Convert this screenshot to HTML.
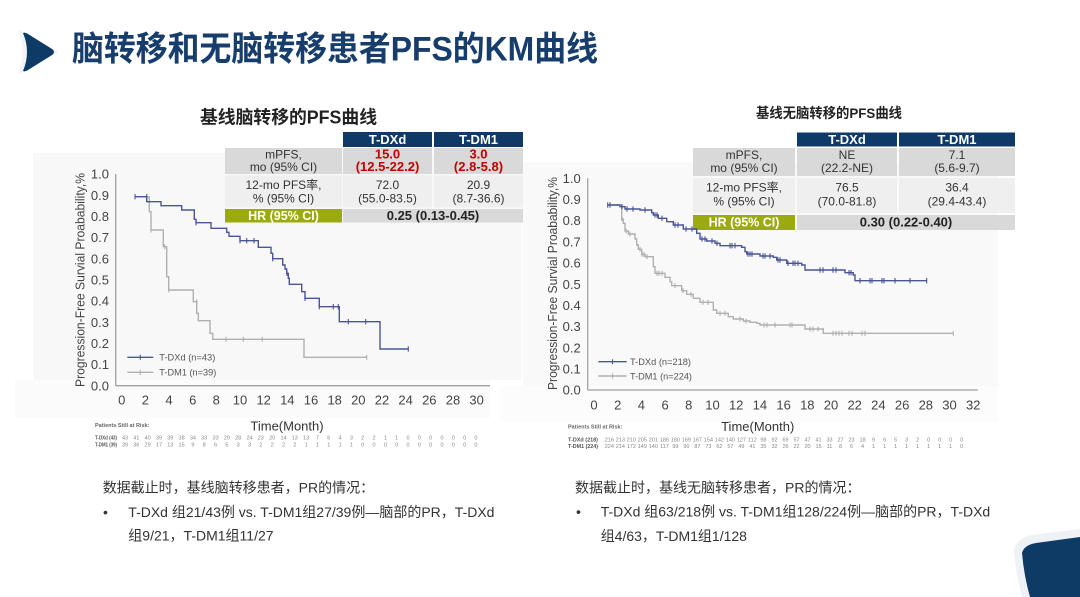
<!DOCTYPE html>
<html><head><meta charset="utf-8">
<style>
html,body{margin:0;padding:0;background:#fff;width:1080px;height:597px;overflow:hidden}
svg{display:block}
text{font-family:"Liberation Sans","Noto Sans CJK SC",sans-serif}
</style></head>
<body>
<svg width="1080" height="597" viewBox="0 0 1080 597" xmlns="http://www.w3.org/2000/svg">
<!-- title -->
<path d="M18,29 L56,50 Q60,52 56,54 L18,75 Q27,52 18,29 Z" fill="#f1f4f9"/>
<path d="M23,33 Q25,32 28,34 L52,49 Q56,52 52,55 L28,70 Q25,72 23,71 Q31,52 23,33 Z" fill="#0e3a66"/>
<text x="72" y="60.5" font-size="34" font-weight="bold" fill="#173d6c" textLength="526" lengthAdjust="spacingAndGlyphs">脑转移和无脑转移患者PFS的KM曲线</text>

<!-- chart backgrounds -->
<rect x="33" y="153" width="489" height="227" fill="#f8f8f8"/>
<rect x="15" y="380" width="475" height="38" fill="#fbfbfb"/>
<rect x="523" y="162" width="475" height="224" fill="#f9f9f9"/>
<rect x="500" y="386" width="498" height="36" fill="#fcfcfc"/>

<!-- LEFT title + table -->
<text x="200" y="123.5" font-size="18" font-weight="bold" fill="#222" textLength="177" lengthAdjust="spacingAndGlyphs">基线脑转移的PFS曲线</text>
<rect x="343" y="132" width="89" height="15" fill="#0f3a67"/>
<rect x="434" y="132" width="89" height="15" fill="#0f3a67"/>
<text x="387.5" y="144" font-size="13" font-weight="bold" fill="#fff" text-anchor="middle">T-DXd</text>
<text x="478.5" y="144" font-size="13" font-weight="bold" fill="#fff" text-anchor="middle">T-DM1</text>
<rect x="225" y="148" width="117" height="26" fill="#d9d9d9"/>
<rect x="343" y="148" width="89" height="26" fill="#d9d9d9"/>
<rect x="434" y="148" width="89" height="26" fill="#d9d9d9"/>
<text x="283.5" y="158.5" font-size="12" fill="#333" text-anchor="middle">mPFS,</text>
<text x="283.5" y="171" font-size="12" fill="#333" text-anchor="middle">mo (95% CI)</text>
<text x="387.5" y="158.5" font-size="13" font-weight="bold" fill="#c00000" text-anchor="middle">15.0</text>
<text x="387.5" y="171" font-size="13" font-weight="bold" fill="#c00000" text-anchor="middle">(12.5-22.2)</text>
<text x="478.5" y="158.5" font-size="13" font-weight="bold" fill="#c00000" text-anchor="middle">3.0</text>
<text x="478.5" y="171" font-size="13" font-weight="bold" fill="#c00000" text-anchor="middle">(2.8-5.8)</text>
<rect x="225" y="175.5" width="117" height="32" fill="#efefef"/>
<rect x="343" y="175.5" width="89" height="32" fill="#efefef"/>
<rect x="434" y="175.5" width="89" height="32" fill="#efefef"/>
<text x="283.5" y="189" font-size="12" fill="#333" text-anchor="middle">12-mo PFS率,</text>
<text x="283.5" y="202.5" font-size="12" fill="#333" text-anchor="middle">% (95% CI)</text>
<text x="387.5" y="189" font-size="12" fill="#333" text-anchor="middle">72.0</text>
<text x="387.5" y="202.5" font-size="12" fill="#333" text-anchor="middle">(55.0-83.5)</text>
<text x="478.5" y="189" font-size="12" fill="#333" text-anchor="middle">20.9</text>
<text x="478.5" y="202.5" font-size="12" fill="#333" text-anchor="middle">(8.7-36.6)</text>
<rect x="225" y="209" width="117" height="13.5" fill="#9bab0f"/>
<rect x="343" y="209" width="180" height="13.5" fill="#d9d9d9"/>
<text x="283.5" y="220" font-size="12.5" font-weight="bold" fill="#fff" text-anchor="middle">HR (95% CI)</text>
<text x="433" y="220" font-size="13" font-weight="bold" fill="#222" text-anchor="middle">0.25 (0.13-0.45)</text>

<!-- RIGHT title + table -->
<text x="756" y="118" font-size="14" font-weight="bold" fill="#222" textLength="146" lengthAdjust="spacingAndGlyphs">基线无脑转移的PFS曲线</text>
<rect x="797" y="132.5" width="100" height="14" fill="#0f3a67"/>
<rect x="899" y="132.5" width="116" height="14" fill="#0f3a67"/>
<text x="847" y="144" font-size="13" font-weight="bold" fill="#fff" text-anchor="middle">T-DXd</text>
<text x="957" y="144" font-size="13" font-weight="bold" fill="#fff" text-anchor="middle">T-DM1</text>
<rect x="693" y="148" width="102" height="28" fill="#d9d9d9"/>
<rect x="797" y="148" width="100" height="28" fill="#d9d9d9"/>
<rect x="899" y="148" width="116" height="28" fill="#d9d9d9"/>
<text x="744" y="159" font-size="12" fill="#333" text-anchor="middle">mPFS,</text>
<text x="744" y="172" font-size="12" fill="#333" text-anchor="middle">mo (95% CI)</text>
<text x="847" y="159" font-size="12" fill="#333" text-anchor="middle">NE</text>
<text x="847" y="172" font-size="12" fill="#333" text-anchor="middle">(22.2-NE)</text>
<text x="957" y="159" font-size="12" fill="#333" text-anchor="middle">7.1</text>
<text x="957" y="172" font-size="12" fill="#333" text-anchor="middle">(5.6-9.7)</text>
<rect x="693" y="178" width="102" height="35" fill="#efefef"/>
<rect x="797" y="178" width="100" height="35" fill="#efefef"/>
<rect x="899" y="178" width="116" height="35" fill="#efefef"/>
<text x="744" y="191.5" font-size="12" fill="#333" text-anchor="middle">12-mo PFS率,</text>
<text x="744" y="205.5" font-size="12" fill="#333" text-anchor="middle">% (95% CI)</text>
<text x="847" y="191.5" font-size="12" fill="#333" text-anchor="middle">76.5</text>
<text x="847" y="205.5" font-size="12" fill="#333" text-anchor="middle">(70.0-81.8)</text>
<text x="957" y="191.5" font-size="12" fill="#333" text-anchor="middle">36.4</text>
<text x="957" y="205.5" font-size="12" fill="#333" text-anchor="middle">(29.4-43.4)</text>
<rect x="693" y="215" width="102" height="15" fill="#9bab0f"/>
<rect x="797" y="215" width="218" height="15" fill="#d9d9d9"/>
<text x="744" y="226.5" font-size="12.5" font-weight="bold" fill="#fff" text-anchor="middle">HR (95% CI)</text>
<text x="906" y="226.5" font-size="13" font-weight="bold" fill="#222" text-anchor="middle">0.30 (0.22-0.40)</text>

<!-- LEFT axes -->
<g stroke="#a0a0a0" stroke-width="1.3" fill="none">
<line x1="115.7" y1="174" x2="115.7" y2="385.7"/>
<line x1="115.7" y1="385.7" x2="490" y2="385.7"/>
</g>
<g font-size="13" fill="#444" text-anchor="end">
<text x="109" y="178.6">1.0</text><text x="109" y="199.8">0.9</text><text x="109" y="220.9">0.8</text><text x="109" y="242.1">0.7</text><text x="109" y="263.3">0.6</text><text x="109" y="284.5">0.5</text><text x="109" y="305.6">0.4</text><text x="109" y="326.8">0.3</text><text x="109" y="348">0.2</text><text x="109" y="369.1">0.1</text><text x="109" y="390.3">0.0</text>
</g>
<g font-size="13" fill="#444" text-anchor="middle">
<text x="121.7" y="404.5">0</text><text x="145.4" y="404.5">2</text><text x="169" y="404.5">4</text><text x="192.7" y="404.5">6</text><text x="216.3" y="404.5">8</text><text x="240" y="404.5">10</text><text x="263.7" y="404.5">12</text><text x="287.3" y="404.5">14</text><text x="311" y="404.5">16</text><text x="334.7" y="404.5">18</text><text x="358.3" y="404.5">20</text><text x="382" y="404.5">22</text><text x="405.6" y="404.5">24</text><text x="429.3" y="404.5">26</text><text x="453" y="404.5">28</text><text x="476.6" y="404.5">30</text>
</g>
<text x="287" y="430.5" font-size="13" fill="#333" text-anchor="middle">Time(Month)</text>
<text transform="translate(84.5,280) rotate(-90)" font-size="13" fill="#444" text-anchor="middle" textLength="214" lengthAdjust="spacingAndGlyphs">Progression-Free Survial Proabability,%</text>

<!-- LEFT curves -->
<path d="M135,196.7 H149.3 V211.7 H151 V230 H163.3 V246.7 H166.7 V276.7 H168.7 V290 H193.3 V301.7 H196.7 V313.3 H198.3 V320.7 H210 V333.3 H212.7 V339.3 H304 V357.3 H366.7" fill="none" stroke="#b0b0b0" stroke-width="1.4"/>
<g stroke="#b0b0b0" stroke-width="1.1">
<line x1="151" y1="227.5" x2="151" y2="232.5"/><line x1="164.7" y1="244.2" x2="164.7" y2="249.2"/><line x1="168.7" y1="287.5" x2="168.7" y2="292.5"/><line x1="196.7" y1="299.2" x2="196.7" y2="304.2"/><line x1="226" y1="336.8" x2="226" y2="341.8"/><line x1="243.3" y1="336.8" x2="243.3" y2="341.8"/><line x1="262.3" y1="336.8" x2="262.3" y2="341.8"/><line x1="366.7" y1="354.8" x2="366.7" y2="359.8"/>
</g>
<path d="M135,196.7 H146.7 V201.7 H161 V205.7 H181.7 V210 H194.3 V219.3 H196 V222.7 H211 V228.3 H226.7 V232.3 H229 V236.3 H240 V240.7 H258.3 V247.3 H271 V253.3 H272.7 V258.7 H282.7 V265 H285 V269 H286.7 V273.3 H288.3 V278.3 H289.3 V284.3 H301.7 V291.7 H305 V298.3 H319.3 V306.7 H339.3 V321.7 H380 V349 H408.3" fill="none" stroke="#4a5596" stroke-width="1.4"/>
<g stroke="#4a5596" stroke-width="1.1">
<line x1="135" y1="194" x2="135" y2="199.4"/><line x1="146.7" y1="194" x2="146.7" y2="199.4"/><line x1="196" y1="220" x2="196" y2="225.4"/><line x1="240" y1="238" x2="240" y2="243.4"/><line x1="246.7" y1="238" x2="246.7" y2="243.4"/><line x1="254" y1="238" x2="254" y2="243.4"/><line x1="272.7" y1="256" x2="272.7" y2="261.4"/><line x1="287" y1="270.6" x2="287" y2="276"/><line x1="305" y1="295.6" x2="305" y2="301"/><line x1="319.3" y1="304" x2="319.3" y2="309.4"/><line x1="333.3" y1="304" x2="333.3" y2="309.4"/><line x1="338.3" y1="304" x2="338.3" y2="309.4"/><line x1="348.3" y1="319" x2="348.3" y2="324.4"/><line x1="365.7" y1="319" x2="365.7" y2="324.4"/><line x1="408.3" y1="346.3" x2="408.3" y2="351.7"/>
</g>
<!-- LEFT legend -->
<line x1="127.3" y1="357.3" x2="153.3" y2="357.3" stroke="#4a5596" stroke-width="1.4"/>
<line x1="140.3" y1="354.8" x2="140.3" y2="359.8" stroke="#4a5596" stroke-width="1.1"/>
<text x="159.3" y="360.6" font-size="9.5" fill="#555" textLength="56" lengthAdjust="spacingAndGlyphs">T-DXd (n=43)</text>
<line x1="127.3" y1="372.3" x2="153.3" y2="372.3" stroke="#b0b0b0" stroke-width="1.4"/>
<line x1="140.3" y1="369.8" x2="140.3" y2="374.8" stroke="#b0b0b0" stroke-width="1.1"/>
<text x="159.3" y="375.6" font-size="9.5" fill="#555" textLength="57" lengthAdjust="spacingAndGlyphs">T-DM1 (n=39)</text>

<!-- LEFT risk table -->
<text x="95" y="427" font-size="5.5" font-weight="bold" fill="#666">Patients Still at Risk:</text>
<text x="95" y="439.3" font-size="5" font-weight="bold" fill="#555" textLength="22" lengthAdjust="spacingAndGlyphs">T-DXd (43)</text>
<text x="95" y="446.3" font-size="5" font-weight="bold" fill="#555" textLength="22" lengthAdjust="spacingAndGlyphs">T-DM1 (39)</text>
<text y="439.3" font-size="5.5" fill="#888" text-anchor="middle"><tspan x="125">43</tspan><tspan x="136.3">41</tspan><tspan x="147.6">40</tspan><tspan x="159">39</tspan><tspan x="170.3">39</tspan><tspan x="181.6">38</tspan><tspan x="192.9">34</tspan><tspan x="204.2">33</tspan><tspan x="215.6">33</tspan><tspan x="226.9">29</tspan><tspan x="238.2">28</tspan><tspan x="249.5">24</tspan><tspan x="260.8">23</tspan><tspan x="272.2">20</tspan><tspan x="283.5">14</tspan><tspan x="294.8">13</tspan><tspan x="306.1">13</tspan><tspan x="317.4">7</tspan><tspan x="328.8">6</tspan><tspan x="340.1">4</tspan><tspan x="351.4">3</tspan><tspan x="362.7">2</tspan><tspan x="374">2</tspan><tspan x="385.4">1</tspan><tspan x="396.7">1</tspan><tspan x="408">0</tspan><tspan x="419.3">0</tspan><tspan x="430.6">0</tspan><tspan x="442">0</tspan><tspan x="453.3">0</tspan><tspan x="464.6">0</tspan><tspan x="475.9">0</tspan></text>
<text y="446.3" font-size="5.5" fill="#888" text-anchor="middle"><tspan x="125">39</tspan><tspan x="136.3">36</tspan><tspan x="147.6">29</tspan><tspan x="159">17</tspan><tspan x="170.3">13</tspan><tspan x="181.6">15</tspan><tspan x="192.9">9</tspan><tspan x="204.2">8</tspan><tspan x="215.6">6</tspan><tspan x="226.9">5</tspan><tspan x="238.2">3</tspan><tspan x="249.5">3</tspan><tspan x="260.8">2</tspan><tspan x="272.2">2</tspan><tspan x="283.5">2</tspan><tspan x="294.8">2</tspan><tspan x="306.1">1</tspan><tspan x="317.4">1</tspan><tspan x="328.8">1</tspan><tspan x="340.1">1</tspan><tspan x="351.4">1</tspan><tspan x="362.7">0</tspan><tspan x="374">0</tspan><tspan x="385.4">0</tspan><tspan x="396.7">0</tspan><tspan x="408">0</tspan><tspan x="419.3">0</tspan><tspan x="430.6">0</tspan><tspan x="442">0</tspan><tspan x="453.3">0</tspan><tspan x="464.6">0</tspan><tspan x="475.9">0</tspan></text>

<!-- RIGHT axes -->
<g stroke="#a0a0a0" stroke-width="1.3" fill="none">
<line x1="587.7" y1="178.3" x2="587.7" y2="390"/>
<line x1="587.7" y1="390" x2="978" y2="390"/>
</g>
<g font-size="13" fill="#444" text-anchor="end">
<text x="580.7" y="182.9">1.0</text><text x="580.7" y="204.1">0.9</text><text x="580.7" y="225.2">0.8</text><text x="580.7" y="246.4">0.7</text><text x="580.7" y="267.6">0.6</text><text x="580.7" y="288.8">0.5</text><text x="580.7" y="309.9">0.4</text><text x="580.7" y="331.1">0.3</text><text x="580.7" y="352.3">0.2</text><text x="580.7" y="373.4">0.1</text><text x="580.7" y="394.6">0.0</text>
</g>
<g font-size="13" fill="#444" text-anchor="middle">
<text x="594" y="409.5">0</text><text x="617.7" y="409.5">2</text><text x="641.4" y="409.5">4</text><text x="665.1" y="409.5">6</text><text x="688.8" y="409.5">8</text><text x="712.5" y="409.5">10</text><text x="736.2" y="409.5">12</text><text x="759.9" y="409.5">14</text><text x="783.6" y="409.5">16</text><text x="807.3" y="409.5">18</text><text x="831" y="409.5">20</text><text x="854.7" y="409.5">22</text><text x="878.4" y="409.5">24</text><text x="902.1" y="409.5">26</text><text x="925.8" y="409.5">28</text><text x="949.5" y="409.5">30</text><text x="973.2" y="409.5">32</text>
</g>
<text x="757.7" y="431" font-size="13" fill="#333" text-anchor="middle">Time(Month)</text>
<text transform="translate(557,283.5) rotate(-90)" font-size="13" fill="#444" text-anchor="middle" textLength="213" lengthAdjust="spacingAndGlyphs">Progression-Free Survial Proabability,%</text>

<!-- RIGHT curves -->
<path d="M607.7,205 H621.7 V220 H623.3 V223.3 H625 V231 H628.3 V234 H635 V239 H636.7 V245 H638.3 V249.3 H641.7 V254.3 H645 V256.7 H653.3 V266.7 H655 V273.3 H665 V277.3 H670 V281.7 H671.7 V285.7 H681.7 V290.7 H686.7 V294.3 H693.3 V298.3 H700 V302.3 H713.3 V310 H716.7 V313.3 H728.3 V316.7 H733.3 V319 H743.3 V321 H750 V322.3 H756.7 V323.3 H760 V325 H805 V329 H823.3 V333.3 H953.3" fill="none" stroke="#b0b0b0" stroke-width="1.4"/>
<g stroke="#b0b0b0" stroke-width="1.1">
<line x1="623" y1="217.5" x2="623" y2="222.5"/><line x1="626" y1="228.5" x2="626" y2="233.5"/><line x1="630" y1="231.5" x2="630" y2="236.5"/><line x1="640" y1="246.8" x2="640" y2="251.8"/><line x1="642" y1="251.8" x2="642" y2="256.8"/><line x1="644" y1="251.8" x2="644" y2="256.8"/><line x1="647" y1="254.2" x2="647" y2="259.2"/><line x1="657" y1="270.8" x2="657" y2="275.8"/><line x1="659" y1="270.8" x2="659" y2="275.8"/><line x1="662" y1="270.8" x2="662" y2="275.8"/><line x1="675" y1="283.2" x2="675" y2="288.2"/><line x1="683" y1="288.2" x2="683" y2="293.2"/><line x1="691" y1="291.8" x2="691" y2="296.8"/><line x1="703" y1="299.8" x2="703" y2="304.8"/><line x1="708" y1="299.8" x2="708" y2="304.8"/><line x1="720" y1="310.8" x2="720" y2="315.8"/><line x1="725" y1="310.8" x2="725" y2="315.8"/><line x1="740" y1="316.5" x2="740" y2="321.5"/><line x1="746" y1="318.5" x2="746" y2="323.5"/><line x1="764" y1="322.5" x2="764" y2="327.5"/><line x1="767" y1="322.5" x2="767" y2="327.5"/><line x1="775" y1="322.5" x2="775" y2="327.5"/><line x1="790" y1="322.5" x2="790" y2="327.5"/><line x1="792" y1="322.5" x2="792" y2="327.5"/><line x1="810" y1="326.5" x2="810" y2="331.5"/><line x1="813" y1="326.5" x2="813" y2="331.5"/><line x1="818" y1="326.5" x2="818" y2="331.5"/><line x1="833" y1="330.8" x2="833" y2="335.8"/><line x1="836" y1="330.8" x2="836" y2="335.8"/><line x1="839" y1="330.8" x2="839" y2="335.8"/><line x1="842" y1="330.8" x2="842" y2="335.8"/><line x1="849" y1="330.8" x2="849" y2="335.8"/><line x1="852" y1="330.8" x2="852" y2="335.8"/><line x1="862" y1="330.8" x2="862" y2="335.8"/><line x1="865" y1="330.8" x2="865" y2="335.8"/><line x1="953.3" y1="330.8" x2="953.3" y2="335.8"/>
</g>
<path d="M607.7,205 H620 V206.7 H625 V209 H640 V210 H651.7 V212.7 H653.3 V215 H658.3 V218.3 H666.7 V221.7 H673.3 V225 H683.3 V229 H696.7 V233.3 H700 V239 H706.7 V241 H715 V243.3 H720 V245.7 H741.7 V247.3 H745 V251.7 H746.7 V254 H760 V256 H773.3 V257.3 H776.7 V260 H786.7 V263.3 H801.7 V265 H805 V270 H845 V272.7 H853.3 V275 H855 V280.7 H926.7" fill="none" stroke="#4a5596" stroke-width="1.4"/>
<g stroke="#4a5596" stroke-width="1.1">
<line x1="607.7" y1="202.3" x2="607.7" y2="207.7"/><line x1="610" y1="202.3" x2="610" y2="207.7"/><line x1="622" y1="204" x2="622" y2="209.4"/><line x1="627" y1="206.3" x2="627" y2="211.7"/><line x1="633" y1="206.3" x2="633" y2="211.7"/><line x1="645" y1="207.3" x2="645" y2="212.7"/><line x1="655" y1="212.3" x2="655" y2="217.7"/><line x1="657" y1="212.3" x2="657" y2="217.7"/><line x1="662" y1="215.6" x2="662" y2="221"/><line x1="675" y1="222.3" x2="675" y2="227.7"/><line x1="678" y1="222.3" x2="678" y2="227.7"/><line x1="686" y1="226.3" x2="686" y2="231.7"/><line x1="692" y1="226.3" x2="692" y2="231.7"/><line x1="702" y1="236.3" x2="702" y2="241.7"/><line x1="705" y1="236.3" x2="705" y2="241.7"/><line x1="712" y1="238.3" x2="712" y2="243.7"/><line x1="717" y1="240.6" x2="717" y2="246"/><line x1="730" y1="243" x2="730" y2="248.4"/><line x1="732" y1="243" x2="732" y2="248.4"/><line x1="735" y1="243" x2="735" y2="248.4"/><line x1="748" y1="251.3" x2="748" y2="256.7"/><line x1="750" y1="251.3" x2="750" y2="256.7"/><line x1="752" y1="251.3" x2="752" y2="256.7"/><line x1="763" y1="253.3" x2="763" y2="258.7"/><line x1="765" y1="253.3" x2="765" y2="258.7"/><line x1="770" y1="253.3" x2="770" y2="258.7"/><line x1="778" y1="257.3" x2="778" y2="262.7"/><line x1="780" y1="257.3" x2="780" y2="262.7"/><line x1="788" y1="260.6" x2="788" y2="266"/><line x1="793" y1="260.6" x2="793" y2="266"/><line x1="795" y1="260.6" x2="795" y2="266"/><line x1="798" y1="260.6" x2="798" y2="266"/><line x1="820" y1="267.3" x2="820" y2="272.7"/><line x1="823" y1="267.3" x2="823" y2="272.7"/><line x1="833" y1="267.3" x2="833" y2="272.7"/><line x1="836" y1="267.3" x2="836" y2="272.7"/><line x1="849" y1="270" x2="849" y2="275.4"/><line x1="851" y1="270" x2="851" y2="275.4"/><line x1="860" y1="278" x2="860" y2="283.4"/><line x1="870" y1="278" x2="870" y2="283.4"/><line x1="872" y1="278" x2="872" y2="283.4"/><line x1="882" y1="278" x2="882" y2="283.4"/><line x1="884" y1="278" x2="884" y2="283.4"/><line x1="895" y1="278" x2="895" y2="283.4"/><line x1="910" y1="278" x2="910" y2="283.4"/><line x1="926.7" y1="278" x2="926.7" y2="283.4"/>
</g>
<!-- RIGHT legend -->
<line x1="598.3" y1="361.7" x2="626.7" y2="361.7" stroke="#4a5596" stroke-width="1.4"/>
<line x1="612.5" y1="359.2" x2="612.5" y2="364.2" stroke="#4a5596" stroke-width="1.1"/>
<text x="630" y="365" font-size="9.5" fill="#555" textLength="61" lengthAdjust="spacingAndGlyphs">T-DXd (n=218)</text>
<line x1="598.3" y1="376" x2="626.7" y2="376" stroke="#b0b0b0" stroke-width="1.4"/>
<line x1="612.5" y1="373.5" x2="612.5" y2="378.5" stroke="#b0b0b0" stroke-width="1.1"/>
<text x="630" y="379.3" font-size="9.5" fill="#555" textLength="62" lengthAdjust="spacingAndGlyphs">T-DM1 (n=224)</text>

<!-- RIGHT risk table -->
<text x="568" y="428.5" font-size="5.5" font-weight="bold" fill="#666">Patients Still at Risk:</text>
<text x="568" y="441.3" font-size="5" font-weight="bold" fill="#555" textLength="30" lengthAdjust="spacingAndGlyphs">T-DXd (218)</text>
<text x="568" y="448" font-size="5" font-weight="bold" fill="#555" textLength="30" lengthAdjust="spacingAndGlyphs">T-DM1 (224)</text>
<text y="441.3" font-size="5.5" fill="#888" text-anchor="middle"><tspan x="609.3">216</tspan><tspan x="620.3">213</tspan><tspan x="631.3">210</tspan><tspan x="642.3">205</tspan><tspan x="653.3">201</tspan><tspan x="664.4">186</tspan><tspan x="675.4">180</tspan><tspan x="686.4">169</tspan><tspan x="697.4">167</tspan><tspan x="708.4">154</tspan><tspan x="719.4">142</tspan><tspan x="730.4">140</tspan><tspan x="741.4">127</tspan><tspan x="752.4">112</tspan><tspan x="763.4">98</tspan><tspan x="774.5">92</tspan><tspan x="785.5">69</tspan><tspan x="796.5">57</tspan><tspan x="807.5">47</tspan><tspan x="818.5">41</tspan><tspan x="829.5">33</tspan><tspan x="840.5">27</tspan><tspan x="851.5">23</tspan><tspan x="862.5">18</tspan><tspan x="873.5">9</tspan><tspan x="884.6">6</tspan><tspan x="895.6">5</tspan><tspan x="906.6">3</tspan><tspan x="917.6">2</tspan><tspan x="928.6">0</tspan><tspan x="939.6">0</tspan><tspan x="950.6">0</tspan><tspan x="961.6">0</tspan></text>
<text y="448" font-size="5.5" fill="#888" text-anchor="middle"><tspan x="609.3">224</tspan><tspan x="620.3">214</tspan><tspan x="631.3">172</tspan><tspan x="642.3">149</tspan><tspan x="653.3">140</tspan><tspan x="664.4">117</tspan><tspan x="675.4">99</tspan><tspan x="686.4">90</tspan><tspan x="697.4">87</tspan><tspan x="708.4">73</tspan><tspan x="719.4">62</tspan><tspan x="730.4">57</tspan><tspan x="741.4">49</tspan><tspan x="752.4">41</tspan><tspan x="763.4">35</tspan><tspan x="774.5">32</tspan><tspan x="785.5">26</tspan><tspan x="796.5">22</tspan><tspan x="807.5">20</tspan><tspan x="818.5">15</tspan><tspan x="829.5">11</tspan><tspan x="840.5">8</tspan><tspan x="851.5">6</tspan><tspan x="862.5">4</tspan><tspan x="873.5">1</tspan><tspan x="884.6">1</tspan><tspan x="895.6">1</tspan><tspan x="906.6">1</tspan><tspan x="917.6">1</tspan><tspan x="928.6">1</tspan><tspan x="939.6">1</tspan><tspan x="950.6">1</tspan><tspan x="961.6">0</tspan></text>

<!-- bottom notes -->
<g font-size="14" fill="#333">
<text x="102.7" y="492.5">数据截止时，基线脑转移患者，PR的情况：</text>
<text x="103" y="517">•</text>
<text x="128.3" y="517">T-DXd 组21/43例 vs. T-DM1组27/39例—脑部的PR，T-DXd</text>
<text x="128.3" y="540.5">组9/21，T-DM1组11/27</text>
<text x="575" y="492.5">数据截止时，基线无脑转移患者，PR的情况：</text>
<text x="576" y="516.5">•</text>
<text x="600.7" y="516.5">T-DXd 组63/218例 vs. T-DM1组128/224例—脑部的PR，T-DXd</text>
<text x="600.7" y="541">组4/63，T-DM1组1/128</text>
</g>

<!-- corner decoration -->
<path d="M1014,551 Q1016,538 1032,535 L1080,529 L1080,597 L1022,597 Q1016,575 1014,551 Z" fill="#eef2f7"/>
<path d="M1022,553 Q1024,545 1036,543 L1080,537 L1080,597 L1030,597 Q1024,576 1022,553 Z" fill="#0e3a66"/>
</svg>
</body></html>
